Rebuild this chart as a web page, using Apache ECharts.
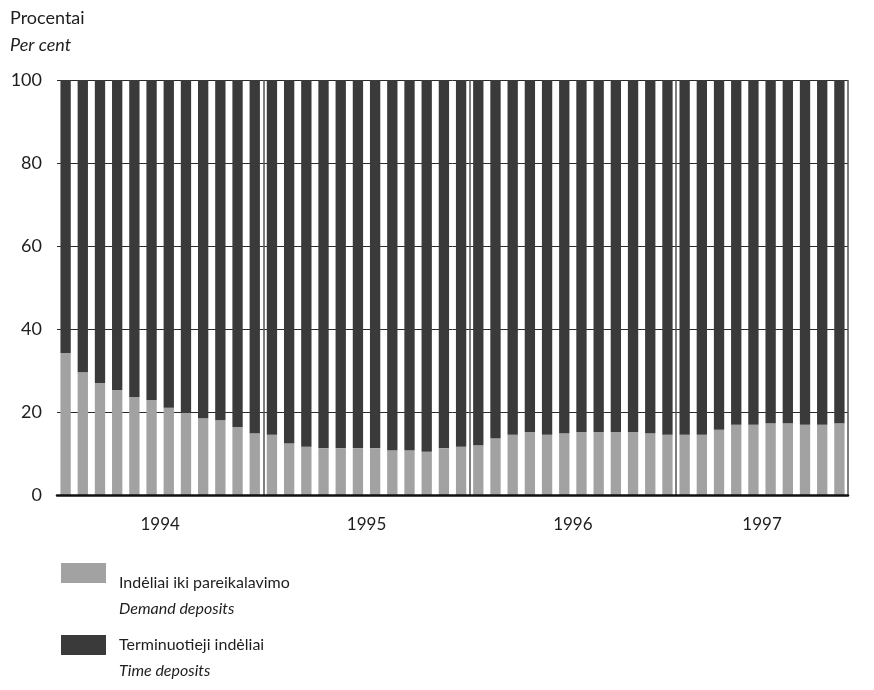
<!DOCTYPE html>
<html>
<head>
<meta charset="utf-8">
<script src="https://cdn.jsdelivr.net/npm/echarts@6/dist/echarts.min.js"></script>
<style>
html,body{margin:0;padding:0;background:#fff;}
#chart{width:874px;height:690px;}
</style>
</head>
<body>
<div id="chart"></div>
<script>
// Months: Jan 1994 – Oct 1997
const years = ['1994', '1995', '1996', '1997'];
const monthsPerYear = [12, 12, 12, 10];

// Demand deposits, % of total
const demandDeposits = [
  34.2, 29.6, 27.0, 25.3, 23.6, 22.9, 21.0, 19.8, 18.5, 18.0, 16.4, 14.9,
  14.5, 12.5, 11.6, 11.3, 11.3, 11.3, 11.3, 10.8, 10.8, 10.4, 11.3, 11.6,
  12.0, 13.7, 14.5, 15.2, 14.5, 14.9, 15.2, 15.2, 15.2, 15.2, 14.9, 14.5,
  14.5, 14.5, 15.7, 16.9, 16.9, 17.3, 17.3, 16.9, 16.9, 17.3
];
// Time deposits, % of total
const timeDeposits = [
  65.8, 70.4, 73.0, 74.7, 76.4, 77.1, 79.0, 80.2, 81.5, 82.0, 83.6, 85.1,
  85.5, 87.5, 88.4, 88.7, 88.7, 88.7, 88.7, 89.2, 89.2, 89.6, 88.7, 88.4,
  88.0, 86.3, 85.5, 84.8, 85.5, 85.1, 84.8, 84.8, 84.8, 84.8, 85.1, 85.5,
  85.5, 85.5, 84.3, 83.1, 83.1, 82.7, 82.7, 83.1, 83.1, 82.7
];
const yTicks = [0, 20, 40, 60, 80, 100];

const seriesNames = ['Indėliai iki pareikalavimo', 'Terminuotieji indėliai'];
const seriesNamesEn = ['Demand deposits', 'Time deposits'];

// Build month categories and year centres / boundaries
const categories = [];
const yearCenters = [];
const yearStarts = [];
let idx = 0;
years.forEach((y, i) => {
  yearStarts.push(idx);
  yearCenters.push(idx + monthsPerYear[i] / 2);
  for (let m = 1; m <= monthsPerYear[i]; m++) {
    categories.push(y + '-' + String(m).padStart(2, '0'));
  }
  idx += monthsPerYear[i];
});
const totalMonths = idx;

const FONT = 'Lato, "Open Sans", "Noto Sans", sans-serif';
const TXT = '#1e1e1e';

const legendText = (name) => {
  const i = seriesNames.indexOf(name);
  return '{a|' + name + '}\n{b|' + seriesNamesEn[i] + '}';
};
const legendRich = {
  a: { fontSize: 16, fontFamily: FONT, color: TXT, lineHeight: 26 },
  b: { fontSize: 16, fontFamily: FONT, color: TXT, fontStyle: 'italic', lineHeight: 26 }
};

const chart = echarts.init(document.getElementById('chart'), null, { renderer: 'canvas' });
chart.setOption({
  backgroundColor: '#ffffff',
  animation: false,
  title: {
    text: 'Procentai',
    subtext: 'Per cent',
    left: 5,
    top: 4,
    itemGap: 9,
    textStyle: { fontSize: 18, fontWeight: 'normal', color: TXT, fontFamily: FONT },
    subtextStyle: { fontSize: 18, fontStyle: 'italic', color: TXT, fontFamily: FONT }
  },
  legend: [
    {
      data: [seriesNames[0]],
      left: 56, top: 558,
      itemWidth: 45, itemHeight: 20,
      icon: 'rect',
      formatter: legendText,
      textStyle: { padding: [46, 0, 0, 8], rich: legendRich }
    },
    {
      data: [seriesNames[1]],
      left: 56, top: 630,
      itemWidth: 45, itemHeight: 20,
      icon: 'rect',
      formatter: legendText,
      textStyle: { padding: [26, 0, 0, 8], rich: legendRich }
    }
  ],
  grid: { left: 57, right: 26, top: 80, bottom: 195, containLabel: false },
  xAxis: [
    {
      type: 'category',
      data: categories,
      boundaryGap: true,
      axisLine: { show: true, lineStyle: { color: '#111', width: 2.5 } },
      axisTick: { show: false },
      axisLabel: { show: false },
      splitLine: {
        show: true,
        interval: (i) => i > 0 && yearStarts.indexOf(i) >= 0,
        lineStyle: { color: '#555', width: 1.5 }
      },
      z: 5
    },
    {
      type: 'value',
      position: 'bottom',
      min: 0,
      max: totalMonths,
      axisLine: { show: false },
      axisTick: { show: false },
      splitLine: { show: false },
      axisLabel: {
        customValues: yearCenters,
        margin: 21,
        fontSize: 17,
        color: TXT,
        fontFamily: FONT,
        formatter: (v) => {
          const i = yearCenters.indexOf(v);
          return i >= 0 ? years[i] : '';
        }
      }
    }
  ],
  yAxis: {
    type: 'value',
    min: yTicks[0],
    max: yTicks[yTicks.length - 1],
    interval: 20,
    axisLine: { show: false },
    axisTick: { show: false },
    axisLabel: { fontSize: 18, color: TXT, fontFamily: FONT, margin: 15 },
    splitLine: { show: true, lineStyle: { color: '#2a2a2a', width: 1 } }
  },
  series: [
    {
      name: seriesNames[0],
      type: 'bar',
      stack: 'total',
      xAxisIndex: 0,
      data: demandDeposits,
      barCategoryGap: '40%',
      itemStyle: { color: '#a2a2a2' },
      z: 3
    },
    {
      name: seriesNames[1],
      type: 'bar',
      stack: 'total',
      xAxisIndex: 0,
      data: timeDeposits,
      barCategoryGap: '40%',
      itemStyle: { color: '#3a3a3a' },
      z: 3
    }
  ]
});
</script>
</body>
</html>
